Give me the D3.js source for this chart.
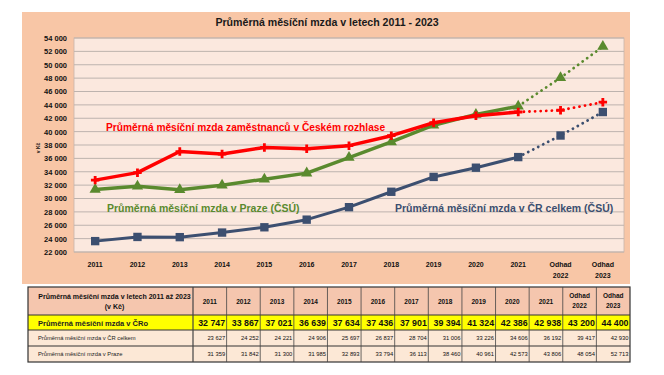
<!DOCTYPE html>
<html><head><meta charset="utf-8">
<script src="https://cdn.jsdelivr.net/npm/d3@7/dist/d3.min.js"></script>
<style>body{margin:0;background:#fff}svg{display:block}text{font-family:Arial,"Liberation Sans",sans-serif}</style>
</head><body>
<svg id="c" width="664" height="375"></svg>
<script>
const years = ["2011","2012","2013","2014","2015","2016","2017","2018","2019","2020","2021","2022","2023"];
const xLabels = [["2011"],["2012"],["2013"],["2014"],["2015"],["2016"],["2017"],["2018"],["2019"],["2020"],["2021"],["Odhad","2022"],["Odhad","2023"]];
const cro   = [32747,33867,37021,36639,37634,37436,37901,39394,41324,42386,42938,43200,44400];
const cr    = [23627,24252,24221,24906,25697,26837,28704,31006,33226,34606,36192,39417,42930];
const praha = [31359,31842,31300,31985,32893,33794,36113,38460,40961,42573,43806,48054,52713];
const yTicks = [22000,24000,26000,28000,30000,32000,34000,36000,38000,40000,42000,44000,46000,48000,50000,52000,54000];
const title = "Průměrná měsíční mzda v letech 2011 - 2023";
const rowNames = ["Průměrná měsíční mzda v ČRo","Průměrná měsíční mzda v ČR celkem","Průměrná měsíční mzda v Praze"];

const svg = d3.select("#c");
const fmt = v => d3.format(",")(v).replace(/,/g," ");
const L=74,R=624,T=38,B=252;
const x = d3.scalePoint().domain(years).range([L,R]).padding(0.5);
const y = d3.scaleLinear().domain([22000,54000]).range([B,T]);

// panel
svg.append("rect").attr("x",22).attr("y",12).attr("width",608).attr("height",272).attr("fill","#f8c6a6");
svg.append("rect").attr("x",L).attr("y",T).attr("width",R-L).attr("height",B-T).attr("fill","#fbe8de").attr("stroke","#c8b4aa").attr("stroke-width",0.8);
svg.append("text").attr("x",327).attr("y",26).attr("text-anchor","middle").attr("font-size",10.6).attr("font-weight","bold").attr("fill","#1a1a1a").text(title);

// grid
svg.append("g").selectAll("line").data(yTicks).join("line")
  .attr("x1",L).attr("x2",R).attr("y1",d=>y(d)).attr("y2",d=>y(d)).attr("stroke","#bdb3ae").attr("stroke-width",1);

// y axis
const ya = svg.append("g").attr("transform",`translate(${L},0)`).call(d3.axisLeft(y).tickValues(yTicks).tickFormat(fmt).tickSize(0).tickPadding(7));
ya.select(".domain").remove();
ya.selectAll("text").attr("font-size",7.5).attr("font-weight","bold").attr("fill","#111").attr("font-family","Arial,'Liberation Sans',sans-serif");
svg.append("text").attr("transform","translate(40,148) rotate(-90)").attr("text-anchor","middle").attr("font-size",5).attr("font-weight","bold").attr("fill","#111").text("v Kč");

// x labels
const xl = svg.append("g").selectAll("text").data(years).join("text")
  .attr("x",d=>x(d)).attr("y",267).attr("text-anchor","middle").attr("font-size",7).attr("font-weight","bold").attr("fill","#111");
xl.each(function(d,i){
  const t=d3.select(this);
  xLabels[i].forEach((s,j)=>t.append("tspan").attr("x",x(d)).attr("dy",j?11:0).text(s));
});

// series
const series = [
  {vals:praha,color:"#5a8a2e",w:3.5,marker:"triangle",size:55},
  {vals:cr,color:"#3c4f70",w:3,marker:"square",size:70},
  {vals:cro,color:"#ff0000",w:3.5,marker:"diamond",size:40},
];
const line = d3.line().x(d=>x(d.year)).y(d=>y(d.v));
series.forEach(s=>{
  const pts = years.map((yr,i)=>({year:yr,v:s.vals[i]}));
  svg.append("path").attr("d",line(pts.slice(0,11))).attr("fill","none").attr("stroke",s.color).attr("stroke-width",s.w).attr("stroke-linejoin","round");
  svg.append("path").attr("d",line(pts.slice(10))).attr("fill","none").attr("stroke",s.color).attr("stroke-width",2.8).attr("stroke-linecap","round").attr("stroke-dasharray","0.1 5.5");
  const sym = s.marker==="triangle"?d3.symbolTriangle:s.marker==="square"?d3.symbolSquare:d3.symbolCross;
  svg.append("g").selectAll("path").data(pts).join("path")
    .attr("transform",d=>`translate(${x(d.year)},${y(d.v)})`)
    .attr("d",d3.symbol().type(sym).size(s.size)).attr("fill",s.color);
});

// annotations
svg.append("text").attr("x",106).attr("y",131).attr("font-size",10.2).attr("font-weight","bold").attr("fill","#ff0000").text("Průměrná měsíční mzda zaměstnanců v Českém rozhlase");
svg.append("text").attr("x",107).attr("y",212).attr("font-size",10.5).attr("font-weight","bold").attr("fill","#5a8a2e").text("Průměrná měsíční mzda v Praze (ČSÚ)");
svg.append("text").attr("x",395).attr("y",212).attr("font-size",10.5).attr("font-weight","bold").attr("fill","#3c4f70").text("Průměrná měsíční mzda v ČR celkem (ČSÚ)");

// table
const tx0=28, c0=193, cw=(630-193)/13;
const rowsY=[287,315,330,346,362];
const fills=["#f5c6ae","#ffff00","#fce8d6","#fce8d6"];
const tb = svg.append("g");
for(let r=0;r<4;r++){
  tb.append("rect").attr("x",tx0).attr("y",rowsY[r]).attr("width",630-tx0).attr("height",rowsY[r+1]-rowsY[r]).attr("fill",fills[r]);
}
// borders
tb.append("rect").attr("x",tx0).attr("y",287).attr("width",630-tx0).attr("height",362-287).attr("fill","none").attr("stroke","#333").attr("stroke-width",1.2);
rowsY.slice(1,4).forEach(yy=>tb.append("line").attr("x1",tx0).attr("x2",630).attr("y1",yy).attr("y2",yy).attr("stroke","#333").attr("stroke-width",1));
years.forEach((yr,i)=>tb.append("line").attr("x1",c0+i*cw).attr("x2",c0+i*cw).attr("y1",287).attr("y2",362).attr("stroke","#444").attr("stroke-width",i?0.8:1.2));
// header
const h0 = tb.append("text").attr("font-size",7).attr("font-weight","bold").attr("fill","#111").attr("text-anchor","middle");
h0.append("tspan").attr("x",(tx0+c0)/2+4).attr("y",299).text("Průměrná měsíční mzda v letech 2011 až 2023");
h0.append("tspan").attr("x",(tx0+c0)/2+4).attr("y",309).text("(v Kč)");
years.forEach((yr,i)=>{
  const t=tb.append("text").attr("font-size",6.5).attr("font-weight","bold").attr("fill","#111").attr("text-anchor","middle");
  const cx=c0+i*cw+cw/2;
  if(xLabels[i].length>1){
    t.append("tspan").attr("x",cx).attr("y",298).text(xLabels[i][0]);
    t.append("tspan").attr("x",cx).attr("y",308).text(xLabels[i][1]);
  } else t.append("tspan").attr("x",cx).attr("y",304).text(yr);
});
// rows
const data=[cro,cr,praha];
data.forEach((vals,r)=>{
  const yT=(rowsY[r+1]+rowsY[r+2])/2+ (r===0?3:2);
  tb.append("text").attr("x",38).attr("y",yT).attr("font-size",r===0?7.5:5.8).attr("font-weight",r===0?"bold":"normal").attr("fill","#222").text(rowNames[r]);
  tb.append("g").selectAll("text").data(vals).join("text")
    .attr("x",(d,i)=>c0+(i+1)*cw-1.5).attr("y",yT).attr("text-anchor","end")
    .attr("font-size",r===0?8.8:5.8).attr("font-weight",r===0?"bold":"normal").attr("fill","#111").text(fmt);
});
</script>
</body></html>
